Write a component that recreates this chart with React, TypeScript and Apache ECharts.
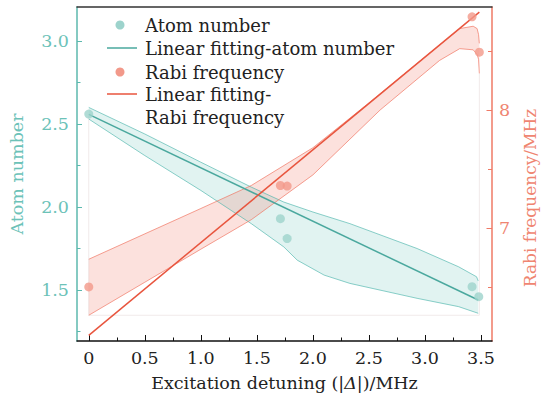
import React, { useEffect, useRef } from 'react';
import * as echarts from 'echarts';

// ---------- data ----------
const atomX = [0, 1.71, 1.77, 3.42, 3.48];
const atomN = [2.56, 1.93, 1.81, 1.52, 1.46];
const rabiX = [0, 1.71, 1.77, 3.42, 3.485];
const rabiF = [6.5, 7.36, 7.355, 8.79, 8.49];

const atomFitX = [0, 3.475];
const atomFit = [2.558, 1.44];
const rabiFitX = [0, 3.485];
const rabiFit = [6.09, 8.83];

const tealUpperX = [0, 0.5, 1.0, 1.45, 1.74, 2.0, 2.33, 2.93, 3.3, 3.46, 3.475];
const tealUpper = [2.6, 2.44, 2.27, 2.12, 2.03, 1.97, 1.9, 1.75, 1.64, 1.58, 1.555];
const tealLowerX = [0, 0.5, 1.0, 1.45, 1.74, 1.86, 2.1, 2.33, 2.93, 3.3, 3.475];
const tealLower = [2.53, 2.31, 2.1, 1.9, 1.76, 1.68, 1.59, 1.54, 1.45, 1.4, 1.36];

const coralUpperX = [0, 0.5, 1.0, 1.45, 2.0, 2.5, 3.0, 3.31, 3.43, 3.465, 3.478, 3.485];
const coralUpper = [6.735, 6.95, 7.165, 7.36, 7.68, 8.06, 8.45, 8.69, 8.71, 8.69, 8.64, 8.565];
const coralLowerX = [0, 0.5, 1.0, 1.45, 2.0, 2.6, 3.13, 3.31, 3.43, 3.465, 3.478, 3.485];
const coralLower = [6.26, 6.54, 6.82, 7.07, 7.45, 8.0, 8.42, 8.52, 8.51, 8.47, 8.43, 8.31];

const guideX = [0, 0, 3.485, 3.485];
const guideY = [7.95, 6.26, 6.26, 8.31];

const xTicks = [0, 0.5, 1.0, 1.5, 2.0, 2.5, 3.0, 3.5];
const xMinorTicks = [0.25, 0.75, 1.25, 1.75, 2.25, 2.75, 3.25];
const atomTicks = [1.5, 2.0, 2.5, 3.0];
const atomMinorTicks = [1.25, 1.75, 2.25, 2.75];
const rabiTicks = [7, 8];
const rabiMinorTicks = [6.5, 7.5, 8.5];

const legendLabels = ['Atom number', 'Linear fitting-atom number', 'Rabi frequency', 'Linear fitting-', 'Rabi frequency'];

// ---------- styles ----------
const FONT = '"DejaVu Serif", serif';
const FS = 17.5;
const LFS = 18;
const TEAL_AXIS = '#5cb9ae';
const TEAL_LABEL = '#6cc2b8';
const TEAL_LINE = '#4aa89e';
const TEAL_PT = '#9dd3cc';
const TEAL_FILL = 'rgba(77,182,172,0.17)';
const TEAL_EDGE = 'rgba(77,182,172,0.65)';
const CORAL_AXIS = '#ef7a66';
const CORAL_LABEL = '#ef8571';
const CORAL_LINE = '#e8553e';
const CORAL_PT = '#f2998a';
const CORAL_FILL = 'rgba(240,120,100,0.22)';
const CORAL_EDGE = 'rgba(240,110,90,0.65)';

const zip = (xs: number[], ys: number[]) => xs.map((x, i) => [x, ys[i]]);

function bandFill(upX: number[], up: number[], loX: number[], lo: number[], yAxisIndex: number, fill: string) {
  return {
    type: 'custom',
    yAxisIndex,
    silent: true,
    z: 1,
    data: [[upX[0], up[0]]],
    renderItem: (_params: any, api: any) => {
      const pts: number[][] = [];
      upX.forEach((x, i) => pts.push(api.coord([x, up[i]])));
      for (let i = loX.length - 1; i >= 0; i--) pts.push(api.coord([loX[i], lo[i]]));
      return { type: 'polygon', shape: { points: pts }, style: { fill, stroke: 'none' } };
    },
  };
}

function edge(xs: number[], ys: number[], yAxisIndex: number, color: string) {
  return {
    type: 'line',
    yAxisIndex,
    data: zip(xs, ys),
    symbol: 'none',
    silent: true,
    z: 2,
    lineStyle: { color, width: 1 },
  };
}

const X_MIN = -0.105;
const X_MAX = 3.598;

const option: any = {
  animation: false,
  backgroundColor: '#ffffff',
  grid: { left: 76, right: 50, top: 7, bottom: 56, containLabel: false },
  xAxis: [
    {
      type: 'value',
      min: X_MIN,
      max: X_MAX,
      position: 'bottom',
      name: 'Excitation detuning (|{i|Δ}|)/MHz',
      nameLocation: 'middle',
      nameGap: 33,
      nameTextStyle: {
        fontFamily: FONT,
        fontSize: FS,
        color: '#222',
        rich: { i: { fontFamily: FONT, fontSize: FS, fontStyle: 'italic', color: '#222' } },
      },
      axisLine: { show: true, onZero: false, lineStyle: { color: '#111', width: 1.5 } },
      axisTick: { show: true, inside: true, length: 6, customValues: xTicks, lineStyle: { color: '#111', width: 1 } },
      axisLabel: {
        show: true,
        customValues: xTicks,
        margin: 8,
        fontFamily: FONT,
        fontSize: FS,
        color: '#222',
        formatter: (v: number) => (v === 0 ? '0' : v.toFixed(1)),
      },
      splitLine: { show: false },
    },
    {
      type: 'value',
      min: X_MIN,
      max: X_MAX,
      position: 'bottom',
      axisLine: { show: false, onZero: false },
      axisTick: { show: true, inside: true, length: 3.5, customValues: xMinorTicks, lineStyle: { color: '#111', width: 1 } },
      axisLabel: { show: false },
      splitLine: { show: false },
    },
    {
      type: 'value',
      min: X_MIN,
      max: X_MAX,
      position: 'top',
      axisLine: { show: true, onZero: false, lineStyle: { color: '#333', width: 1.5 } },
      axisTick: { show: false },
      axisLabel: { show: false },
      splitLine: { show: false },
    },
  ],
  yAxis: [
    {
      type: 'value',
      position: 'left',
      min: 1.193,
      max: 3.205,
      name: 'Atom number',
      nameLocation: 'middle',
      nameGap: 51,
      nameTextStyle: { fontFamily: FONT, fontSize: FS, color: TEAL_LABEL },
      axisLine: { show: true, onZero: false, lineStyle: { color: TEAL_AXIS, width: 1.5 } },
      axisTick: { show: true, inside: true, length: 5, customValues: atomTicks, lineStyle: { color: TEAL_AXIS, width: 1 } },
      axisLabel: {
        show: true,
        customValues: atomTicks,
        margin: 8,
        fontFamily: FONT,
        fontSize: FS,
        color: TEAL_LABEL,
        formatter: (v: number) => v.toFixed(1),
      },
      splitLine: { show: false },
    },
    {
      type: 'value',
      position: 'right',
      min: 6.042,
      max: 8.873,
      axisLine: { show: true, onZero: false, lineStyle: { color: CORAL_AXIS, width: 1.5 } },
      axisTick: { show: true, inside: true, length: 5.5, customValues: rabiTicks, lineStyle: { color: CORAL_AXIS, width: 1 } },
      axisLabel: {
        show: true,
        customValues: rabiTicks,
        margin: 7,
        fontFamily: FONT,
        fontSize: FS,
        color: CORAL_LABEL,
        formatter: (v: number) => String(v),
      },
      splitLine: { show: false },
    },
    {
      type: 'value',
      position: 'left',
      min: 1.193,
      max: 3.205,
      axisLine: { show: false, onZero: false },
      axisTick: { show: true, inside: true, length: 3.5, customValues: atomMinorTicks, lineStyle: { color: TEAL_AXIS, width: 1 } },
      axisLabel: { show: false },
      splitLine: { show: false },
    },
    {
      type: 'value',
      position: 'right',
      min: 6.042,
      max: 8.873,
      axisLine: { show: false, onZero: false },
      axisTick: { show: true, inside: true, length: 4, customValues: rabiMinorTicks, lineStyle: { color: CORAL_AXIS, width: 1 } },
      axisLabel: { show: false },
      splitLine: { show: false },
    },
  ],
  graphic: [
    {
      type: 'text',
      x: 530,
      y: 198,
      rotation: Math.PI / 2,
      style: {
        text: 'Rabi frequency/MHz',
        fill: CORAL_LABEL,
        font: `17px ${FONT}`,
        textAlign: 'center',
        textVerticalAlign: 'middle',
        align: 'center',
        verticalAlign: 'middle',
      },
    },
    { type: 'circle', shape: { cx: 120, cy: 25, r: 4.5 }, style: { fill: TEAL_PT } },
    { type: 'line', shape: { x1: 107, y1: 48, x2: 137, y2: 48 }, style: { stroke: TEAL_LINE, lineWidth: 1.5 } },
    { type: 'circle', shape: { cx: 120, cy: 72, r: 4.5 }, style: { fill: CORAL_PT } },
    { type: 'line', shape: { x1: 107, y1: 94, x2: 137, y2: 94 }, style: { stroke: CORAL_LINE, lineWidth: 1.5 } },
    ...legendLabels.map((t, i) => ({
      type: 'text',
      x: 145,
      y: [25, 48, 72, 94, 117][i],
      style: {
        text: t,
        fill: '#222',
        font: `${LFS}px ${FONT}`,
        textAlign: 'left',
        textVerticalAlign: 'middle',
        align: 'left',
        verticalAlign: 'middle',
      },
    })),
  ],
  series: [
    {
      type: 'line',
      yAxisIndex: 1,
      data: zip(guideX, guideY),
      symbol: 'none',
      silent: true,
      z: 0,
      lineStyle: { color: '#f1eaea', width: 1 },
    },
    bandFill(tealUpperX, tealUpper, tealLowerX, tealLower, 0, TEAL_FILL),
    bandFill(coralUpperX, coralUpper, coralLowerX, coralLower, 1, CORAL_FILL),
    edge(tealUpperX, tealUpper, 0, TEAL_EDGE),
    edge(tealLowerX, tealLower, 0, TEAL_EDGE),
    edge(coralUpperX, coralUpper, 1, CORAL_EDGE),
    edge(coralLowerX, coralLower, 1, CORAL_EDGE),
    {
      name: 'Linear fitting-atom number',
      type: 'line',
      yAxisIndex: 0,
      data: zip(atomFitX, atomFit),
      symbol: 'none',
      z: 3,
      lineStyle: { color: TEAL_LINE, width: 1.5 },
    },
    {
      name: 'Linear fitting-Rabi frequency',
      type: 'line',
      yAxisIndex: 1,
      data: zip(rabiFitX, rabiFit),
      symbol: 'none',
      z: 3,
      lineStyle: { color: CORAL_LINE, width: 1.5 },
    },
    {
      name: 'Atom number',
      type: 'scatter',
      yAxisIndex: 0,
      data: zip(atomX, atomN),
      symbolSize: 9,
      z: 4,
      itemStyle: { color: TEAL_PT },
    },
    {
      name: 'Rabi frequency',
      type: 'scatter',
      yAxisIndex: 1,
      data: zip(rabiX, rabiF),
      symbolSize: 9,
      z: 4,
      itemStyle: { color: CORAL_PT },
    },
  ],
};

export default function App() {
  const ref = useRef<HTMLDivElement>(null);
  useEffect(() => {
    const chart = echarts.init(ref.current!, null, { renderer: 'svg' });
    chart.setOption(option);
    return () => chart.dispose();
  }, []);
  return (
    <div
      ref={ref}
      style={{ position: 'fixed', left: 0, top: 0, width: 542, height: 397, background: '#fff' }}
    />
  );
}
